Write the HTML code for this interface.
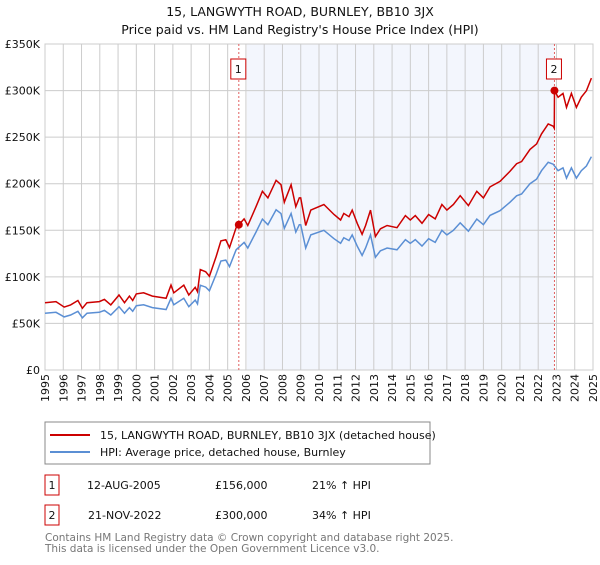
<!DOCTYPE html>
<html><head><meta charset="utf-8"><style>
body{margin:0;background:#fff;font-family:"Liberation Sans","DejaVu Sans",sans-serif}
svg text{font-family:"DejaVu Sans","Liberation Sans",sans-serif}
</style></head><body>
<svg id="c" width="600" height="560" viewBox="0 0 600 560">
<text x="300" y="16" text-anchor="middle" font-size="12.5" fill="#111">15, LANGWYTH ROAD, BURNLEY, BB10 3JX</text>
<text x="300" y="34" text-anchor="middle" font-size="12.5" fill="#111">Price paid vs. HM Land Registry's House Price Index (HPI)</text>
<g id="plot"></g>
<rect x="45" y="422" width="385" height="42" fill="#fff" stroke="#888"/>
<line x1="50" y1="435" x2="90" y2="435" stroke="#cc0000" stroke-width="2"/>
<text x="100" y="439" font-size="11" fill="#111">15, LANGWYTH ROAD, BURNLEY, BB10 3JX (detached house)</text>
<line x1="50" y1="452" x2="90" y2="452" stroke="#5b8fd4" stroke-width="2"/>
<text x="100" y="456" font-size="11" fill="#111">HPI: Average price, detached house, Burnley</text>
<rect x="45" y="475" width="14" height="20" fill="#fff" stroke="#cc0000"/>
<text x="52" y="489" text-anchor="middle" font-size="11" fill="#111">1</text>
<text x="87" y="489" font-size="11" fill="#111">12-AUG-2005</text>
<text x="215" y="489" font-size="11" fill="#111">£156,000</text>
<text x="312" y="489" font-size="11" fill="#111">21% ↑ HPI</text>
<rect x="45" y="505" width="14" height="20" fill="#fff" stroke="#cc0000"/>
<text x="52" y="519" text-anchor="middle" font-size="11" fill="#111">2</text>
<text x="88" y="519" font-size="11" fill="#111">21-NOV-2022</text>
<text x="215" y="519" font-size="11" fill="#111">£300,000</text>
<text x="312" y="519" font-size="11" fill="#111">34% ↑ HPI</text>
<text x="45" y="541" font-size="10.5" fill="#777">Contains HM Land Registry data © Crown copyright and database right 2025.</text>
<text x="45" y="552" font-size="10.5" fill="#777">This data is licensed under the Open Government Licence v3.0.</text>
</svg>
<script>
const hpiYears=[1995.0,1995.6,1996.05,1996.4,1996.8,1997.05,1997.3,1997.97,1998.25,1998.6,1999.05,1999.35,1999.62,1999.8,2000.0,2000.4,2000.88,2001.63,2001.9,2002.05,2002.6,2002.87,2003.22,2003.35,2003.5,2003.8,2004.0,2004.37,2004.63,2004.9,2005.1,2005.46,2005.9,2006.1,2006.55,2006.9,2007.2,2007.65,2007.92,2008.1,2008.47,2008.73,2008.92,2009.0,2009.27,2009.55,2010.27,2010.82,2011.18,2011.36,2011.64,2011.82,2012.09,2012.36,2012.55,2012.82,2013.09,2013.36,2013.73,2014.27,2014.73,2015.0,2015.27,2015.64,2016.0,2016.36,2016.73,2017.0,2017.36,2017.73,2018.18,2018.64,2019.0,2019.36,2019.91,2020.45,2020.82,2021.09,2021.55,2021.91,2022.18,2022.55,2022.82,2023.09,2023.36,2023.55,2023.82,2024.09,2024.36,2024.64,2024.91];
const hpiValues=[61,62,57,59,63,56,61,62,64,59,68,61,67,63,69,70,67,65,77,70,77,68,75,71,91,89,85,103,117,118,111,129,137,131,148,162,156,172,168,152,168,148,156,156,131,145,150,141,136,142,139,145,133,123,131,145,121,128,131,129,140,136,140,133,141,137,150,145,150,158,149,162,156,166,171,180,187,189,200,205,214,223,221,214,217,206,217,206,214,219,229];
const saleYears=[2005.61,2022.89];
const salePrices=[156,300];
const yTicks=[0,50,100,150,200,250,300,350];
const yTickLabels=["£0","£50K","£100K","£150K","£200K","£250K","£300K","£350K"];
const xTicks=[1995,1996,1997,1998,1999,2000,2001,2002,2003,2004,2005,2006,2007,2008,2009,2010,2011,2012,2013,2014,2015,2016,2017,2018,2019,2020,2021,2022,2023,2024,2025];

const NS="http://www.w3.org/2000/svg";
const L=45,R=593,T=44,B=370;
const x=y=>L+(y-1995)/30*(R-L);
const yv=v=>B-v/350*(B-T);
const g=document.getElementById('plot');
function mk(t,a){const e=document.createElementNS(NS,t);for(const k in a)e.setAttribute(k,a[k]);g.appendChild(e);return e;}
function hpiAt(t){for(let i=1;i<hpiYears.length;i++){if(t<=hpiYears[i]){const f=(t-hpiYears[i-1])/(hpiYears[i]-hpiYears[i-1]);return hpiValues[i-1]+f*(hpiValues[i]-hpiValues[i-1]);}}return hpiValues[hpiValues.length-1];}

let e=mk('rect',{x:x(2006.05),y:T,width:x(saleYears[1])-x(2006.05),height:B-T,fill:'#eef2fc',opacity:0.7});


xTicks.forEach(t=>{const l=mk('line',{x1:x(t),x2:x(t),y1:T,y2:B,stroke:'#ccc','stroke-width':1});


const tx=mk('text',{x:0,y:0,'font-size':11,fill:'#111','text-anchor':'end',transform:`translate(${x(t)+4},${B+4}) rotate(-90)`});
tx.textContent=t;

});
yTicks.forEach((t,i)=>{const l=mk('line',{x1:L,x2:R,y1:yv(t),y2:yv(t),stroke:'#ccc','stroke-width':1});


const tx=mk('text',{x:40,y:yv(t)+4,'font-size':11,fill:'#111','text-anchor':'end'});
tx.textContent=yTickLabels[i];

});
e=mk('rect',{x:L,y:T,width:R-L,height:B-T,fill:'none',stroke:'#ccc'});


saleYears.forEach((s,i)=>{const l=mk('line',{x1:x(s),x2:x(s),y1:T,y2:B,stroke:'#e06060','stroke-dasharray':'2,2','stroke-width':1});

});
// HPI line
let d=hpiYears.map((t,i)=>(i?'L':'M')+x(t).toFixed(1)+','+yv(hpiValues[i]).toFixed(1)).join('');
e=mk('path',{d,fill:'none',stroke:'#5b8fd4','stroke-width':1.5});


// property line: HPI indexed from sales
const f1=salePrices[0]/hpiAt(saleYears[0]),f2=salePrices[1]/hpiAt(saleYears[1]);
const pts=[];
hpiYears.forEach((t,i)=>{if(t<saleYears[1])pts.push([t,hpiValues[i]*f1]);});
pts.push([saleYears[1]-0.01,hpiAt(saleYears[1])*f1]);
pts.push([saleYears[1],salePrices[1]]);
hpiYears.forEach((t,i)=>{if(t>saleYears[1])pts.push([t,hpiValues[i]*f2]);});
d=pts.map((p,i)=>(i?'L':'M')+x(p[0]).toFixed(1)+','+yv(p[1]).toFixed(1)).join('');
e=mk('path',{d,fill:'none',stroke:'#cc0000','stroke-width':1.5});


saleYears.forEach((s,i)=>{const c=mk('circle',{cx:x(s),cy:yv(salePrices[i]),r:4,fill:'#cc0000'});


const b=mk('rect',{x:x(s)-8,y:59,width:15,height:20,fill:'#fff',stroke:'#cc0000'});


const tx=mk('text',{x:x(s)-0.5,y:73,'font-size':11,fill:'#111','text-anchor':'middle'});
tx.textContent=String(i+1);

});
</script>
</body></html>
